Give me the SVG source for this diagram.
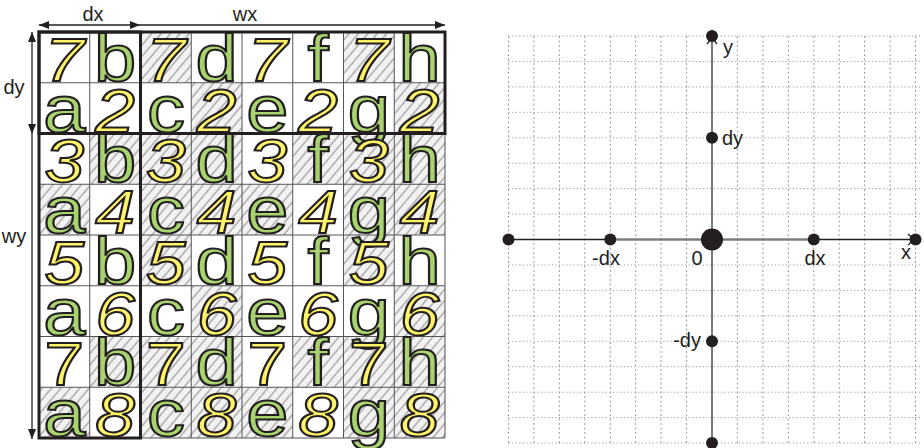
<svg xmlns="http://www.w3.org/2000/svg" width="924" height="448" viewBox="0 0 924 448">
<defs>
<pattern id="hatch" patternUnits="userSpaceOnUse" width="7.2" height="7.2" patternTransform="rotate(40)">
<rect width="7.2" height="7.2" fill="#f2f2f2"/>
<line x1="1" y1="0" x2="1" y2="7.2" stroke="#a8a8a8" stroke-width="1.4"/>
</pattern>
<marker id="ah" viewBox="0 0 10 8" refX="10" refY="4" markerWidth="10" markerHeight="8" markerUnits="userSpaceOnUse" orient="auto-start-reverse">
<path d="M0,0 L10,4 L0,8 Z" fill="#231f20"/>
</marker>
</defs>
<style>
.lt{font-family:"Liberation Sans",Arial,sans-serif;font-size:66px;fill:#a8d36f;stroke:#231f20;stroke-width:2;text-anchor:middle}
.dg{font-family:"Liberation Sans",Arial,sans-serif;font-size:62px;font-style:italic;fill:#fff469;stroke:#231f20;stroke-width:2;text-anchor:middle}
.du{font-style:normal}
.lbl{font-family:"Liberation Sans",Arial,sans-serif;font-size:20px;fill:#231f20}
.dim{stroke:#231f20;stroke-width:1.3;fill:none}
.thin{stroke:#555;stroke-width:1;fill:none}
.thick{stroke:#231f20;stroke-width:3;fill:none}
.dot{fill:#231f20}
.gridv{stroke:#9a9a9a;stroke-width:1;stroke-dasharray:2 2.5;fill:none}
.gridh{stroke:#9a9a9a;stroke-width:1;stroke-dasharray:1.2 2.4;fill:none}
</style>
<rect width="924" height="448" fill="#fff"/>

<g id="dimensions">
<line class="dim" x1="39" y1="25" x2="140" y2="25" marker-start="url(#ah)" marker-end="url(#ah)"/>
<line class="dim" x1="140" y1="25" x2="445" y2="25" marker-end="url(#ah)"/>
<line class="dim" x1="32" y1="32" x2="32" y2="134" marker-start="url(#ah)" marker-end="url(#ah)"/>
<line class="dim" x1="32" y1="134" x2="32" y2="439" marker-end="url(#ah)"/>
<text class="lbl" x="93" y="21" text-anchor="middle">dx</text>
<text class="lbl" x="245" y="21" text-anchor="middle">wx</text>
<text class="lbl" x="14" y="94" text-anchor="middle">dy</text>
<text class="lbl" x="14" y="243" text-anchor="middle">wy</text>
</g>

<g id="grid-cells">
<rect x="39" y="32" width="406" height="406" fill="#fff"/>
<g fill="url(#hatch)">
<rect x="140.5" y="32" width="50.75" height="50.75"/>
<rect x="343.5" y="32" width="50.75" height="50.75"/>
<rect x="191.25" y="82.75" width="50.75" height="50.75"/>
<rect x="394.25" y="82.75" width="50.75" height="50.75"/>
<rect x="89.75" y="133.5" width="152.25" height="50.75"/>
<rect x="292.75" y="133.5" width="152.25" height="50.75"/>
<rect x="39" y="184.25" width="50.75" height="50.75"/>
<rect x="140.5" y="184.25" width="101.5" height="50.75"/>
<rect x="242" y="184.25" width="50.75" height="50.75"/>
<rect x="343.5" y="184.25" width="101.5" height="50.75"/>
<rect x="140.5" y="235" width="50.75" height="50.75"/>
<rect x="343.5" y="235" width="50.75" height="50.75"/>
<rect x="191.25" y="285.75" width="50.75" height="50.75"/>
<rect x="394.25" y="285.75" width="50.75" height="50.75"/>
<rect x="89.75" y="336.5" width="152.25" height="50.75"/>
<rect x="292.75" y="336.5" width="152.25" height="50.75"/>
<rect x="39" y="387.25" width="50.75" height="50.75"/>
<rect x="140.5" y="387.25" width="101.5" height="50.75"/>
<rect x="242" y="387.25" width="50.75" height="50.75"/>
<rect x="343.5" y="387.25" width="101.5" height="50.75"/>
</g>
<path class="thin" d="M39,32V438M89.75,32V438M140.5,32V438M191.25,32V438M242,32V438M292.75,32V438M343.5,32V438M394.25,32V438M445,32V438M39,32H445M39,82.75H445M39,133.5H445M39,184.25H445M39,235H445M39,285.75H445M39,336.5H445M39,387.25H445M39,438H445"/>
</g>

<g id="characters">
<text class="dg" transform="translate(64.4,80.5) scale(1.15,1)">7</text><text class="lt" transform="translate(115.1,80.5) scale(1.15,1)">b</text><text class="dg" transform="translate(165.9,80.5) scale(1.15,1)">7</text><text class="lt" transform="translate(216.6,80.5) scale(1.15,1)">d</text><text class="dg" transform="translate(267.4,80.5) scale(1.15,1)">7</text><text class="lt" transform="translate(318.1,80.5) scale(1.15,1)">f</text><text class="dg" transform="translate(368.9,80.5) scale(1.15,1)">7</text><text class="lt" transform="translate(419.6,80.5) scale(1.15,1)">h</text>
<text class="lt" transform="translate(64.4,132) scale(1.15,1)">a</text><text class="dg" transform="translate(115.1,132) scale(1.15,1)">2</text><text class="lt" transform="translate(165.9,132) scale(1.15,1)">c</text><text class="dg" transform="translate(216.6,132) scale(1.15,1)">2</text><text class="lt" transform="translate(267.4,132) scale(1.15,1)">e</text><text class="dg" transform="translate(318.1,132) scale(1.15,1)">2</text><text class="lt" transform="translate(368.9,132) scale(1.15,1)">g</text><text class="dg" transform="translate(419.6,132) scale(1.15,1)">2</text>
<text class="dg" transform="translate(64.4,182) scale(1.15,1)">3</text><text class="lt" transform="translate(115.1,182) scale(1.15,1)">b</text><text class="dg" transform="translate(165.9,182) scale(1.15,1)">3</text><text class="lt" transform="translate(216.6,182) scale(1.15,1)">d</text><text class="dg" transform="translate(267.4,182) scale(1.15,1)">3</text><text class="lt" transform="translate(318.1,182) scale(1.15,1)">f</text><text class="dg" transform="translate(368.9,182) scale(1.15,1)">3</text><text class="lt" transform="translate(419.6,182) scale(1.15,1)">h</text>
<text class="lt" transform="translate(64.4,233) scale(1.15,1)">a</text><text class="dg" transform="translate(115.1,233) scale(1.15,1)">4</text><text class="lt" transform="translate(165.9,233) scale(1.15,1)">c</text><text class="dg" transform="translate(216.6,233) scale(1.15,1)">4</text><text class="lt" transform="translate(267.4,233) scale(1.15,1)">e</text><text class="dg" transform="translate(318.1,233) scale(1.15,1)">4</text><text class="lt" transform="translate(368.9,233) scale(1.15,1)">g</text><text class="dg" transform="translate(419.6,233) scale(1.15,1)">4</text>
<text class="dg" transform="translate(64.4,283.5) scale(1.15,1)">5</text><text class="lt" transform="translate(115.1,283.5) scale(1.15,1)">b</text><text class="dg" transform="translate(165.9,283.5) scale(1.15,1)">5</text><text class="lt" transform="translate(216.6,283.5) scale(1.15,1)">d</text><text class="dg" transform="translate(267.4,283.5) scale(1.15,1)">5</text><text class="lt" transform="translate(318.1,283.5) scale(1.15,1)">f</text><text class="dg" transform="translate(368.9,283.5) scale(1.15,1)">5</text><text class="lt" transform="translate(419.6,283.5) scale(1.15,1)">h</text>
<text class="lt" transform="translate(64.4,335) scale(1.15,1)">a</text><text class="dg" transform="translate(115.1,335) scale(1.15,1)">6</text><text class="lt" transform="translate(165.9,335) scale(1.15,1)">c</text><text class="dg" transform="translate(216.6,335) scale(1.15,1)">6</text><text class="lt" transform="translate(267.4,335) scale(1.15,1)">e</text><text class="dg" transform="translate(318.1,335) scale(1.15,1)">6</text><text class="lt" transform="translate(368.9,335) scale(1.15,1)">g</text><text class="dg" transform="translate(419.6,335) scale(1.15,1)">6</text>
<text class="dg du" transform="translate(64.4,385) scale(1.15,1)">7</text><text class="lt" transform="translate(115.1,385) scale(1.15,1)">b</text><text class="dg du" transform="translate(165.9,385) scale(1.15,1)">7</text><text class="lt" transform="translate(216.6,385) scale(1.15,1)">d</text><text class="dg du" transform="translate(267.4,385) scale(1.15,1)">7</text><text class="lt" transform="translate(318.1,385) scale(1.15,1)">f</text><text class="dg du" transform="translate(368.9,385) scale(1.15,1)">7</text><text class="lt" transform="translate(419.6,385) scale(1.15,1)">h</text>
<text class="lt" transform="translate(64.4,436) scale(1.15,1)">a</text><text class="dg" transform="translate(115.1,436) scale(1.15,1)">8</text><text class="lt" transform="translate(165.9,436) scale(1.15,1)">c</text><text class="dg" transform="translate(216.6,436) scale(1.15,1)">8</text><text class="lt" transform="translate(267.4,436) scale(1.15,1)">e</text><text class="dg" transform="translate(318.1,436) scale(1.15,1)">8</text><text class="lt" transform="translate(368.9,436) scale(1.15,1)">g</text><text class="dg" transform="translate(419.6,436) scale(1.15,1)">8</text>
</g>

<g id="blocks">
<rect class="thick" x="39" y="32" width="406" height="101.5"/>
<rect class="thick" x="39" y="32" width="101.5" height="406"/>
</g>

<g id="coordinate-grid">
<path class="gridv" d="M508.5,36V443M533.9,36V443M559.4,36V443M584.8,36V443M610.3,36V443M635.7,36V443M661.1,36V443M686.6,36V443M737.4,36V443M762.9,36V443M788.3,36V443M813.8,36V443M839.2,36V443M864.6,36V443M890.1,36V443M915.5,36V443"/>
<path class="gridh" d="M508.5,36H922M508.5,61.4H922M508.5,86.9H922M508.5,112.3H922M508.5,137.8H922M508.5,163.2H922M508.5,188.6H922M508.5,214.1H922M508.5,265H922M508.5,290.4H922M508.5,315.8H922M508.5,341.3H922M508.5,366.7H922M508.5,392.2H922M508.5,417.6H922M508.5,443H922"/>
</g>

<g id="axes">
<line x1="508.5" y1="239.5" x2="915.5" y2="239.5" stroke="#231f20" stroke-width="1.4"/>
<line x1="610.3" y1="239.5" x2="813.8" y2="239.5" stroke="#7a7a7a" stroke-width="2"/>
<line x1="712" y1="36" x2="712" y2="443" stroke="#7a7a7a" stroke-width="2"/>
<path d="M707,44 L712,38 L717,44" fill="none" stroke="#231f20" stroke-width="1.2"/>
<path d="M908,234 L914,239.5 L908,245" fill="none" stroke="#231f20" stroke-width="1.2"/>
</g>

<g id="points">
<circle class="dot" cx="508.5" cy="239.5" r="6"/>
<circle class="dot" cx="610.3" cy="239.5" r="6"/>
<circle class="dot" cx="712" cy="239.5" r="11"/>
<circle class="dot" cx="813.8" cy="239.5" r="6"/>
<circle class="dot" cx="915.5" cy="239.5" r="6"/>
<circle class="dot" cx="712" cy="36" r="6"/>
<circle class="dot" cx="712" cy="137.8" r="6"/>
<circle class="dot" cx="712" cy="341.3" r="6"/>
<circle class="dot" cx="712" cy="443" r="6"/>
</g>

<g id="axis-labels">
<text class="lbl" x="723" y="54">y</text>
<text class="lbl" x="722" y="145">dy</text>
<text class="lbl" x="606" y="265" text-anchor="middle">-dx</text>
<text class="lbl" x="697" y="265" text-anchor="middle">0</text>
<text class="lbl" x="815" y="265" text-anchor="middle">dx</text>
<text class="lbl" x="906" y="259" text-anchor="middle">x</text>
<text class="lbl" x="701" y="347" text-anchor="end">-dy</text>
</g>
</svg>
